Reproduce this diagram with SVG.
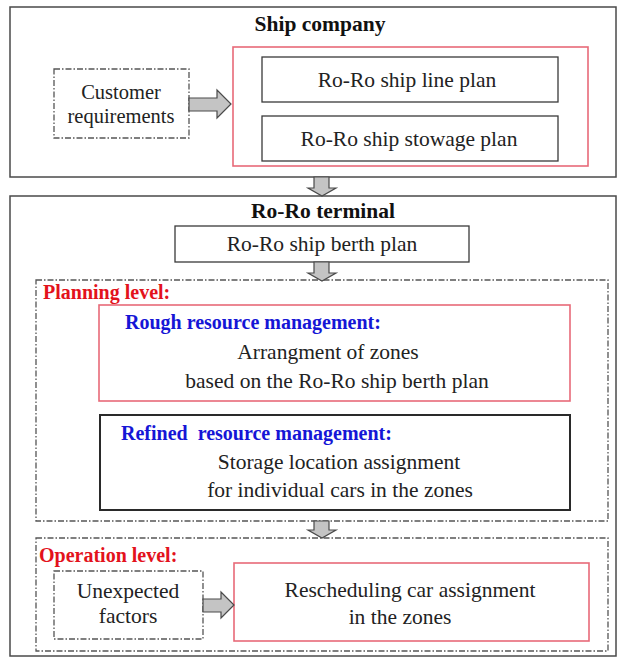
<svg xmlns="http://www.w3.org/2000/svg" width="619" height="659" viewBox="0 0 619 659">
<style>
.bg{fill:#ffffff}
.outer{fill:none;stroke:#4a4a4a;stroke-width:1.5}
.plain{fill:#ffffff;stroke:#3a3a3a;stroke-width:1.3}
.thick{fill:#ffffff;stroke:#2a2a2a;stroke-width:2}
.red{fill:none;stroke:#e86a78;stroke-width:1.6}
.dash{fill:none;stroke:#555555;stroke-width:1.3;stroke-dasharray:6 2 1.5 2}
.arrow{fill:#c4c4c4;stroke:#4a4a4a;stroke-width:1.2;stroke-linejoin:miter}
text{font-family:"Liberation Serif","Times New Roman",serif;fill:#222222}
.t{font-size:21.5px;text-anchor:middle}
.title{font-size:21.5px;font-weight:bold;text-anchor:middle;fill:#111111}
.lvl{font-size:20px;font-weight:bold;fill:#e3121c}
.blue{font-size:20px;font-weight:bold;fill:#1616d6}
</style>
<rect class="bg" x="0" y="0" width="619" height="659"/>

<g id="ship-company">
  <rect class="outer" x="10" y="7" width="606" height="170"/>
  <text class="title" x="320" y="31">Ship company</text>
</g>

<g id="customer-requirements">
  <rect class="dash" x="54" y="69" width="135" height="69"/>
  <text class="t" x="121" y="99" style="font-size:20.5px">Customer</text>
  <text class="t" x="121" y="123" style="font-size:20.5px">requirements</text>
</g>

<g id="ship-plans">
  <rect class="red" x="233" y="47" width="355" height="119"/>
</g>

<g id="line-plan">
  <rect class="plain" x="262" y="57" width="296" height="45"/>
  <text class="t" x="407" y="87">Ro-Ro ship line plan</text>
</g>

<g id="stowage-plan">
  <rect class="plain" x="262" y="116" width="296" height="45"/>
  <text class="t" x="409" y="146">Ro-Ro ship stowage plan</text>
</g>

<g id="roro-terminal">
  <rect class="outer" x="10" y="196" width="606" height="460"/>
  <text class="title" x="323" y="218">Ro-Ro terminal</text>
</g>

<g id="berth-plan">
  <rect class="plain" x="175" y="226" width="294" height="36"/>
  <text class="t" x="322" y="251">Ro-Ro ship berth plan</text>
</g>

<g id="planning-level">
  <rect class="dash" x="36" y="280" width="572" height="241"/>
  <text class="lvl" x="43" y="299">Planning level:</text>
</g>

<g id="rough-resource">
  <rect class="red" x="99" y="305" width="471" height="96"/>
  <text class="blue" x="125" y="329">Rough resource management:</text>
  <text class="t" x="328" y="359">Arrangment of zones</text>
  <text class="t" x="337" y="388">based on the Ro-Ro ship berth plan</text>
</g>

<g id="refined-resource">
  <rect class="thick" x="100" y="415" width="470" height="95"/>
  <text class="blue" x="121" y="440" xml:space="preserve">Refined  resource management:</text>
  <text class="t" x="339" y="469">Storage location assignment</text>
  <text class="t" x="340" y="497">for individual cars in the zones</text>
</g>

<g id="operation-level">
  <rect class="dash" x="36" y="538" width="572" height="113"/>
  <text class="lvl" x="39" y="562">Operation level:</text>
</g>

<g id="unexpected-factors">
  <rect class="dash" x="54" y="571" width="149" height="68"/>
  <text class="t" x="128" y="598">Unexpected</text>
  <text class="t" x="128" y="623">factors</text>
</g>

<g id="rescheduling">
  <rect class="red" x="234" y="563" width="355" height="78"/>
  <text class="t" x="410" y="597">Rescheduling car assignment</text>
  <text class="t" x="400" y="624">in the zones</text>
</g>

<g id="connectors">
  <path class="arrow" d="M189,98 H217 V90 L231,104 L217,118 V111 H189 Z"/>
  <path class="arrow" d="M314,177 V188 H308 L322,196 L336,188 H329 V177 Z"/>
  <path class="arrow" d="M314,262 V273 H308 L322,281 L336,273 H329 V262 Z"/>
  <path class="arrow" d="M314,521 V530 H308 L322,538 L336,530 H329 V521 Z"/>
  <path class="arrow" d="M203,599 H221 V592 L234,605 L221,618 V612 H203 Z"/>
</g>
</svg>
